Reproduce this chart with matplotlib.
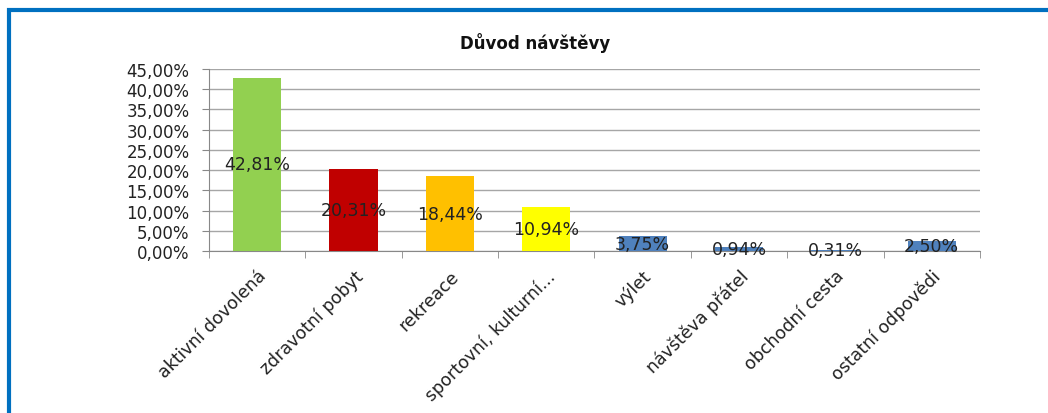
import matplotlib.pyplot as plt
from matplotlib.patches import Rectangle

categories = ['aktivní dovolená', 'zdravotní pobyt', 'rekreace', 'sportovní, kulturní...',
              'výlet', 'návštěva přátel', 'obchodní cesta', 'ostatní odpovědi']
values = [42.81, 20.31, 18.44, 10.94, 3.75, 0.94, 0.31, 2.50]
colors = ['#92D050', '#C00000', '#FFC000', '#FFFF00',
          '#4F81BD', '#4F81BD', '#4F81BD', '#4F81BD']
yticks = [0, 5, 10, 15, 20, 25, 30, 35, 40, 45]

plt.rcParams['font.family'] = ['DejaVu Sans']

fig = plt.figure(figsize=(10.48, 4.14), dpi=100)
ax = fig.add_axes([0.1994, 0.391, 0.7356, 0.440])

x = range(len(categories))
ax.bar(x, values, width=0.5, color=colors, zorder=3)

# value labels in the middle of the bars
for i, v in enumerate(values):
    ax.text(i, v / 2, f"{v:.2f}%".replace('.', ','), ha='center', va='center',
            fontsize=12.5, color='#222222', zorder=4)

ax.set_xlim(-0.5, len(categories) - 0.5)
ax.set_ylim(0, 45)
ax.set_yticks(yticks)
ax.set_yticklabels([f"{t:.2f}%".replace('.', ',') for t in yticks], fontsize=12, color='#222222')
ax.grid(axis='y', color='#A6A6A6', linewidth=1, zorder=0)

ax.set_xticks(list(x))
ax.set_xticklabels(categories, rotation=45, ha='right', rotation_mode='anchor',
                   fontsize=12.5, color='#222222')
ax.tick_params(axis='x', length=0, pad=11)
ax.set_xticks([i + 0.5 for i in range(-1, len(categories))], minor=True)
ax.tick_params(axis='x', which='minor', length=5, color='#888888')
ax.tick_params(axis='y', length=5, color='#888888', pad=9)

for s in ['top', 'right']:
    ax.spines[s].set_visible(False)
ax.spines['left'].set_color('#888888')
ax.spines['bottom'].set_color('#888888')

fig.text(0.511, 0.897, 'Důvod návštěvy', ha='center', va='center',
         fontsize=12, fontweight='bold', color='#111111')

# blue frame around the chart
fig.patches.append(Rectangle((0.009, -0.05), 1.2, 1.024, transform=fig.transFigure,
                             fill=False, edgecolor='#0070C0', linewidth=3))

fig.savefig('out.png', dpi=100)
